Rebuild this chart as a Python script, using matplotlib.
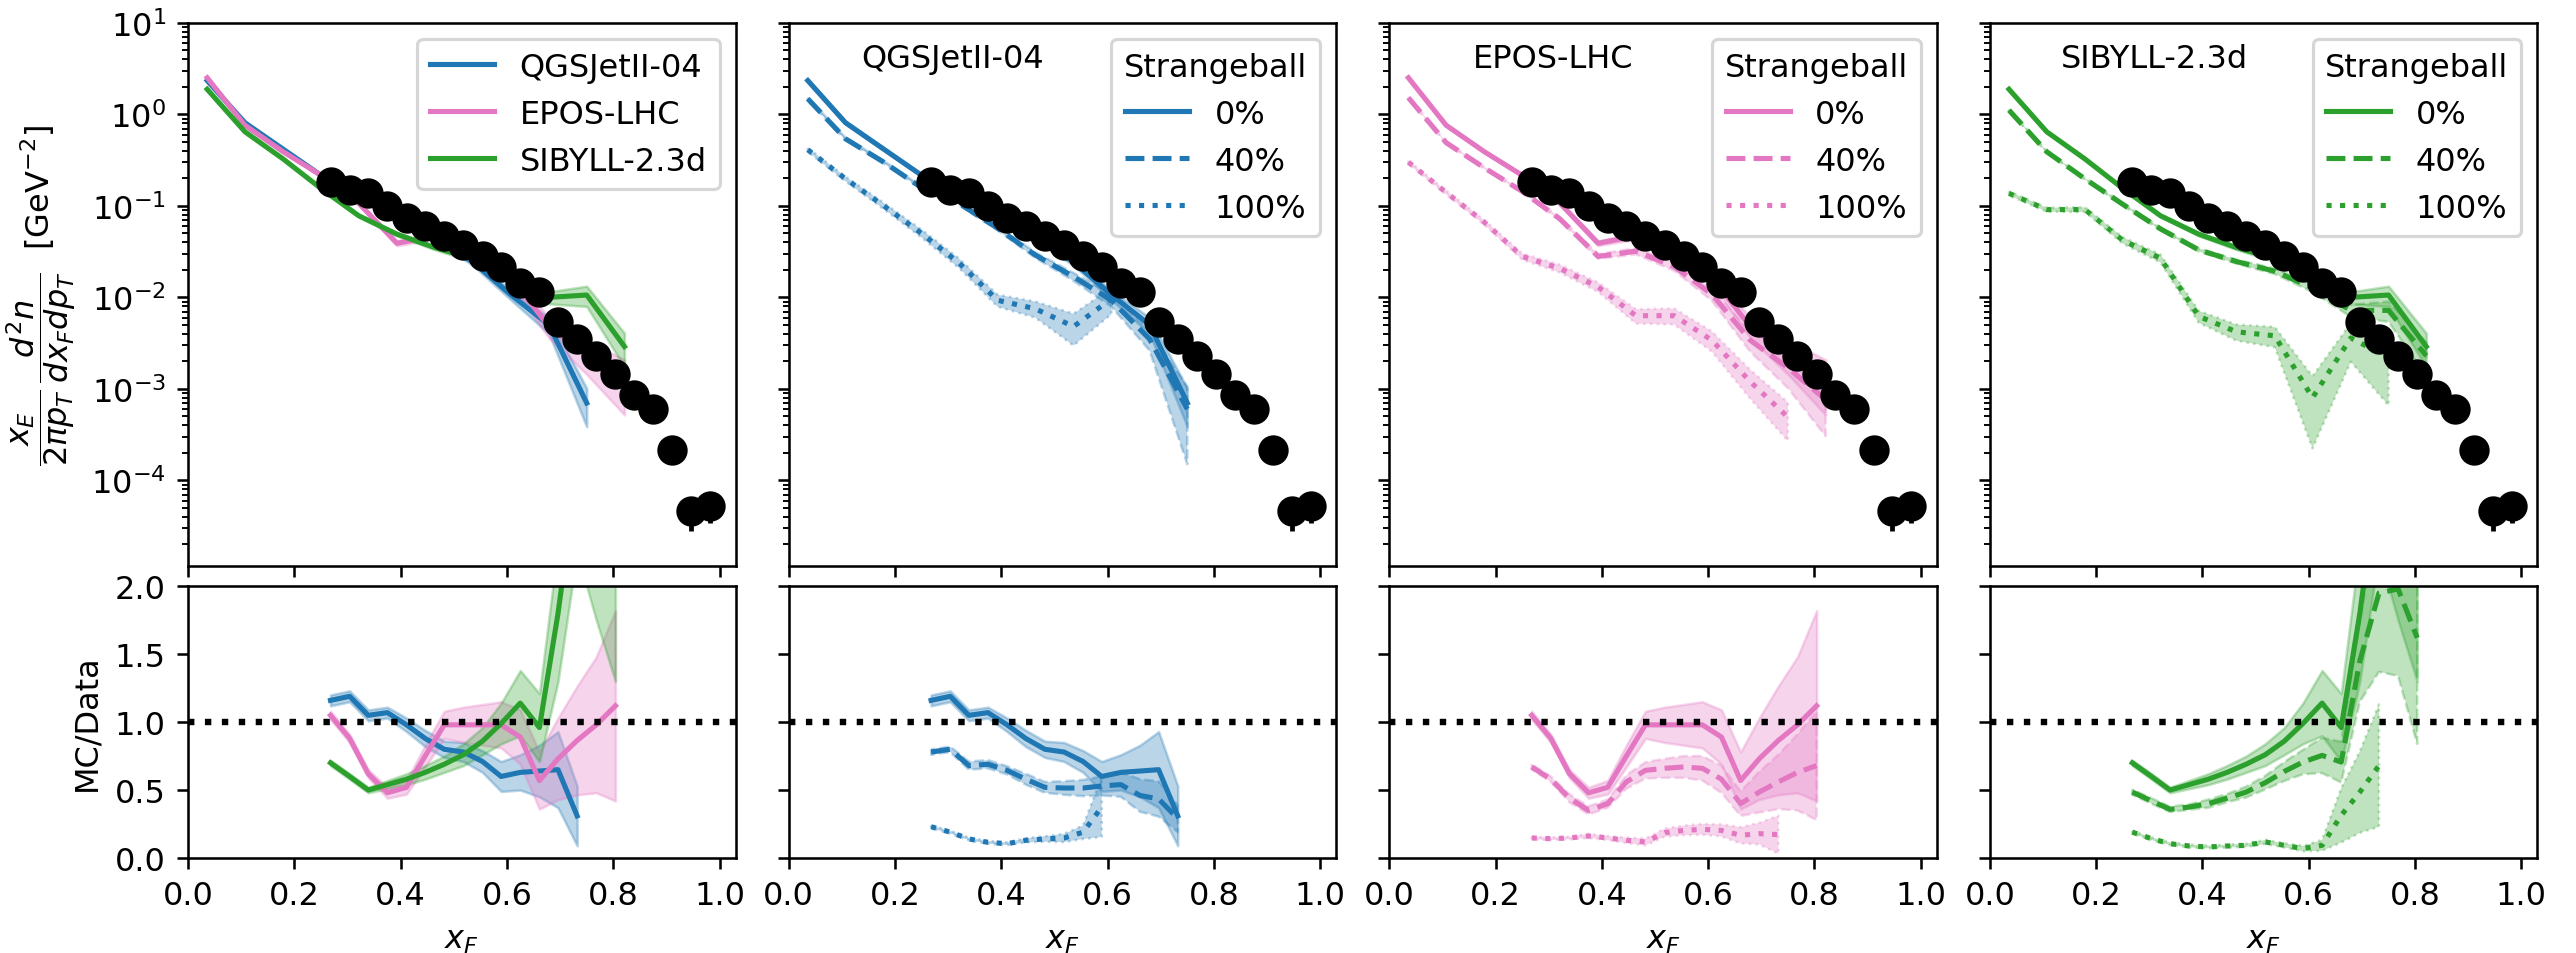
import numpy as np
import matplotlib
matplotlib.use('Agg')
import matplotlib.pyplot as plt
from matplotlib.gridspec import GridSpec

# ---------------- data ----------------
XD = [0.268, 0.304, 0.339, 0.375, 0.411, 0.446, 0.482, 0.518, 0.554, 0.589, 0.625,
      0.661, 0.696, 0.732, 0.768, 0.804, 0.839, 0.875, 0.911, 0.946, 0.982]
YD = [0.180, 0.150, 0.137, 0.100, 0.074, 0.0605, 0.0474, 0.0374, 0.0285, 0.0213, 0.0142,
      0.0113, 0.00535, 0.00355, 0.0023, 0.00146, 0.000846, 0.000604, 0.000216, 4.6e-5, 5.3e-5]
YD_ERR = [0.004, 0.003, 0.003, 0.002, 0.0015, 0.0012, 0.001, 0.0008, 0.0006, 0.0005, 0.0003,
          0.0003, 0.00012, 0.0001, 0.00007, 0.00005, 0.00003, 0.00003, 0.00001, 1.8e-5, 1.9e-5]

# model grid (upper panels)
XM = [0.036, 0.107, 0.179, 0.25, 0.321, 0.393, 0.464, 0.536, 0.607, 0.679, 0.75, 0.821]

# QGSJetII-04
q0 = [2.34, 0.81, 0.416, 0.216, 0.160, 0.088, 0.045, 0.0243, 0.0107, 0.0050, 0.0007]
q0_rel = [0.03, 0.03, 0.03, 0.03, 0.04, 0.05, 0.07, 0.08, 0.12, 0.2, 0.45]
q40 = [1.48, 0.54, 0.30, 0.158, 0.106, 0.057, 0.029, 0.0168, 0.0093, 0.0035, 0.0006]
q40_rel = [0.03, 0.03, 0.03, 0.03, 0.04, 0.05, 0.07, 0.1, 0.15, 0.25, 0.75]
q100 = [0.41, 0.197, 0.10, 0.05, 0.0236, 0.0093, 0.0075, 0.0048, 0.0096]
q100_rel = [0.05, 0.06, 0.08, 0.1, 0.12, 0.15, 0.2, 0.38, 0.32]

# EPOS-LHC
e0 = [2.51, 0.76, 0.39, 0.216, 0.107, 0.039, 0.047, 0.032, 0.0165, 0.0048, 0.0024, 0.0013]
e0_rel = [0.02, 0.02, 0.02, 0.03, 0.04, 0.06, 0.08, 0.1, 0.15, 0.25, 0.4, 0.6]
e40 = [1.52, 0.49, 0.26, 0.144, 0.072, 0.028, 0.032, 0.0217, 0.0108, 0.0034, 0.0017, 0.00076]
e40_rel = [0.02, 0.02, 0.03, 0.03, 0.04, 0.06, 0.08, 0.1, 0.15, 0.25, 0.4, 0.6]
e100 = [0.30, 0.14, 0.066, 0.028, 0.0207, 0.013, 0.0063, 0.0063, 0.0034, 0.0012, 0.00049]
e100_rel = [0.04, 0.05, 0.06, 0.08, 0.1, 0.12, 0.18, 0.2, 0.25, 0.35, 0.45]

# SIBYLL-2.3d
s0 = [1.88, 0.645, 0.325, 0.155, 0.078, 0.049, 0.035, 0.0264, 0.0185, 0.0100, 0.0106, 0.0029]
s0_rel = [0.02, 0.02, 0.02, 0.03, 0.03, 0.04, 0.05, 0.07, 0.1, 0.15, 0.25, 0.4]
s40 = [1.11, 0.39, 0.197, 0.104, 0.056, 0.033, 0.0246, 0.0193, 0.0127, 0.0072, 0.0072, 0.0023]
s40_rel = [0.02, 0.02, 0.02, 0.03, 0.03, 0.04, 0.05, 0.07, 0.1, 0.15, 0.25, 0.4]
s100 = [0.137, 0.091, 0.091, 0.042, 0.0267, 0.0062, 0.0042, 0.0038, 0.0008, 0.0036, 0.0022]
s100_rel = [0.05, 0.05, 0.06, 0.08, 0.1, 0.15, 0.2, 0.25, 0.72, 0.45, 0.7]

# MC/Data ratios (at data x)
rq0 = [1.16, 1.19, 1.05, 1.07, 0.98, 0.88, 0.80, 0.78, 0.71, 0.60, 0.63, 0.64, 0.65, 0.31]
rq0_err = [0.04, 0.04, 0.04, 0.04, 0.05, 0.06, 0.06, 0.07, 0.08, 0.11, 0.13, 0.19, 0.28, 0.22]
rq40 = [0.78, 0.80, 0.68, 0.69, 0.645, 0.58, 0.52, 0.515, 0.515, 0.53, 0.54, 0.46, 0.435, 0.29]
rq40_err = [0.02, 0.02, 0.03, 0.03, 0.03, 0.04, 0.04, 0.05, 0.06, 0.07, 0.09, 0.12, 0.13, 0.1]
rq100 = [0.23, 0.19, 0.14, 0.115, 0.105, 0.13, 0.14, 0.147, 0.19, 0.375]
rq100_err = [0.01, 0.01, 0.01, 0.01, 0.01, 0.015, 0.02, 0.03, 0.05, 0.22]

re0 = [1.05, 0.88, 0.62, 0.48, 0.52, 0.75, 0.98, 0.98, 0.98, 0.98, 0.89, 0.57, 0.73, 0.865, 0.98, 1.12]
re0_err = [0.03, 0.03, 0.03, 0.04, 0.05, 0.08, 0.1, 0.13, 0.15, 0.17, 0.2, 0.21, 0.3, 0.4, 0.5, 0.7]
re40 = [0.67, 0.58, 0.44, 0.35, 0.40, 0.56, 0.645, 0.66, 0.67, 0.66, 0.58, 0.40, 0.485, 0.56, 0.63, 0.68]
re40_err = [0.02, 0.02, 0.03, 0.03, 0.03, 0.05, 0.06, 0.07, 0.08, 0.09, 0.1, 0.09, 0.15, 0.2, 0.28, 0.4]
re100 = [0.147, 0.142, 0.147, 0.162, 0.147, 0.13, 0.118, 0.186, 0.203, 0.211, 0.203, 0.167, 0.179, 0.172]
re100_err = [0.01, 0.01, 0.01, 0.015, 0.015, 0.02, 0.025, 0.03, 0.035, 0.04, 0.045, 0.06, 0.08, 0.14]

rs0 = [0.70, 0.60, 0.50, 0.54, 0.58, 0.63, 0.69, 0.76, 0.86, 0.99, 1.14, 0.96, 1.80, 2.85, 2.45, 2.15]
rs0_err = [0.02, 0.02, 0.02, 0.03, 0.04, 0.05, 0.06, 0.08, 0.1, 0.15, 0.24, 0.25, 0.5, 0.6, 0.7, 0.85]
rs40 = [0.485, 0.42, 0.358, 0.375, 0.40, 0.44, 0.485, 0.554, 0.637, 0.706, 0.755, 0.706, 1.45, 1.95, 1.98, 1.62]
rs40_err = [0.02, 0.02, 0.02, 0.02, 0.03, 0.03, 0.04, 0.05, 0.07, 0.09, 0.13, 0.15, 0.3, 0.58, 0.64, 0.78]
rs100 = [0.19, 0.142, 0.105, 0.088, 0.081, 0.088, 0.093, 0.118, 0.093, 0.069, 0.093, 0.314, 0.485, 0.68]
rs100_err = [0.01, 0.01, 0.01, 0.01, 0.01, 0.01, 0.012, 0.015, 0.015, 0.02, 0.04, 0.2, 0.3, 0.45]

MODELS = ['QGSJetII-04', 'EPOS-LHC', 'SIBYLL-2.3d']
COLORS = ['#1f77b4', '#e377c2', '#2ca02c']
SB_LABELS = ['0%', '40%', '100%']
STYLES = ['-', '--', ':']

top_sets = [[(q0, q0_rel), (q40, q40_rel), (q100, q100_rel)],
            [(e0, e0_rel), (e40, e40_rel), (e100, e100_rel)],
            [(s0, s0_rel), (s40, s40_rel), (s100, s100_rel)]]
rat_sets = [[(rq0, rq0_err), (rq40, rq40_err), (rq100, rq100_err)],
            [(re0, re0_err), (re40, re40_err), (re100, re100_err)],
            [(rs0, rs0_err), (rs40, rs40_err), (rs100, rs100_err)]]

# ---------------- figure ----------------
DPI = 230
fig = plt.figure(figsize=(2576 / DPI, 954 / DPI), dpi=DPI)
gs = GridSpec(2, 4, figure=fig, height_ratios=[2, 1], left=0.073, right=0.985,
              top=0.975, bottom=0.0996, wspace=0.097, hspace=0.049)

axes_top = []
axes_bot = []
for j in range(4):
    at = fig.add_subplot(gs[0, j], sharey=axes_top[0] if axes_top else None)
    ab = fig.add_subplot(gs[1, j], sharex=at, sharey=axes_bot[0] if axes_bot else None)
    axes_top.append(at)
    axes_bot.append(ab)


def draw_top(ax, vals, rel, color, ls, label=None):
    v = np.array(vals)
    r = np.array(rel)
    x = np.array(XM[:len(v)])
    ax.fill_between(x, v * (1 - r), v * (1 + r), color=color, alpha=0.3, linestyle=ls, lw=0.8)
    ax.plot(x, v, color=color, ls=ls, lw=1.6, label=label)


def draw_ratio(ax, vals, err, color, ls):
    v = np.array(vals)
    e = np.array(err)
    x = np.array(XD[:len(v)])
    ax.fill_between(x, v - e, v + e, color=color, alpha=0.3, linestyle=ls, lw=0.8)
    ax.plot(x, v, color=color, ls=ls, lw=1.6)


# panel 1: all models, 0 %
ax = axes_top[0]
for m in range(3):
    vals, rel = top_sets[m][0]
    draw_top(ax, vals, rel, COLORS[m], '-', label=MODELS[m])
    rv, re = rat_sets[m][0]
    draw_ratio(axes_bot[0], rv, re, COLORS[m], '-')
ax.legend(loc='upper right')

# panels 2-4: one model, three strangeball fractions
for m in range(3):
    ax = axes_top[m + 1]
    for k in range(3):
        vals, rel = top_sets[m][k]
        draw_top(ax, vals, rel, COLORS[m], STYLES[k], label=SB_LABELS[k])
        rv, re = rat_sets[m][k]
        draw_ratio(axes_bot[m + 1], rv, re, COLORS[m], STYLES[k])
    ax.legend(loc='upper right', title='Strangeball')
    ax.text(0.3, 0.935, MODELS[m], transform=ax.transAxes, ha='center', va='center')

for j in range(4):
    at, ab = axes_top[j], axes_bot[j]
    at.errorbar(XD, YD, yerr=YD_ERR, fmt='o', color='k', ms=8.5, elinewidth=1.5, zorder=10)
    at.set_yscale('log')
    at.set_ylim(1.15e-5, 10)
    at.set_xlim(0, 1.03)
    at.tick_params(labelbottom=False)
    ab.axhline(1.0, color='k', ls=':', lw=2)
    ab.set_ylim(0, 2)
    ab.set_yticks([0, 0.5, 1.0, 1.5, 2.0])
    ab.set_xticks([0, 0.2, 0.4, 0.6, 0.8, 1.0])
    ab.set_xlabel('$x_F$')
    if j > 0:
        at.tick_params(labelleft=False)
        ab.tick_params(labelleft=False)

axes_top[0].set_ylabel(r'$\dfrac{x_E}{2\pi p_T}\,\dfrac{d^2n}{dx_F dp_T}$  [GeV$^{-2}$]')
axes_bot[0].set_ylabel('MC/Data')

fig.savefig('out.png', dpi=DPI)
